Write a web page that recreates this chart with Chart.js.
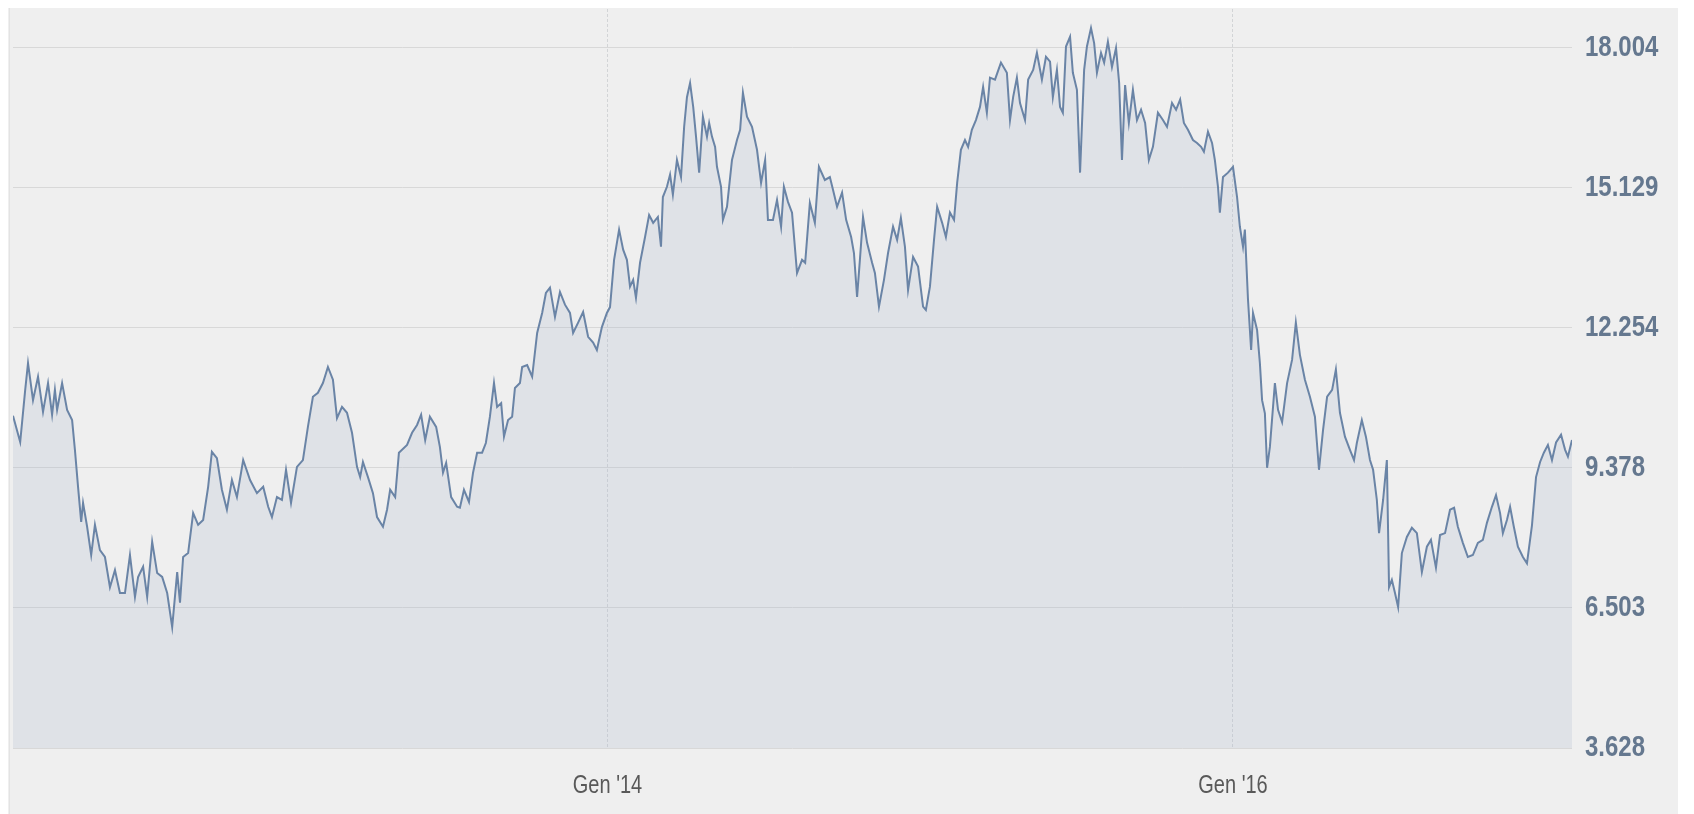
<!DOCTYPE html>
<html><head><meta charset="utf-8">
<script src="https://cdn.jsdelivr.net/npm/chart.js@4/dist/chart.umd.min.js"></script>
<style>
html,body{margin:0;padding:0;background:#fff;overflow:hidden;}
#wrap{position:absolute;left:0;top:0;width:1694px;height:814px;}
</style></head><body>
<div id="wrap"><canvas id="c" width="1694" height="814"></canvas></div>
<script>
// Time positions (decimal years)
const dates = [
2012.099,2012.122,2012.138,2012.147,2012.163,2012.179,2012.195,2012.211,2012.224,2012.233,2012.240,2012.256,2012.272,2012.288,2012.297,2012.307,2012.317,2012.323,2012.336,2012.349,
2012.361,2012.377,2012.393,2012.409,2012.425,2012.441,2012.457,2012.473,2012.489,2012.499,2012.515,2012.528,2012.544,2012.560,2012.576,2012.592,2012.608,2012.624,2012.633,2012.643,
2012.659,2012.675,2012.691,2012.707,2012.723,2012.735,2012.751,2012.767,2012.783,2012.799,2012.815,2012.835,2012.857,2012.879,2012.899,2012.915,2012.927,2012.943,2012.959,2012.972,
2012.988,2013.007,2013.026,2013.042,2013.058,2013.074,2013.090,2013.106,2013.122,2013.135,2013.151,2013.167,2013.183,2013.199,2013.209,2013.218,2013.234,2013.250,2013.263,2013.282,
2013.295,2013.305,2013.321,2013.333,2013.359,2013.375,2013.391,2013.404,2013.417,2013.432,2013.452,2013.464,2013.474,2013.484,2013.500,2013.519,2013.528,2013.541,2013.557,2013.570,
2013.583,2013.599,2013.611,2013.624,2013.637,2013.647,2013.660,2013.669,2013.682,2013.695,2013.704,2013.720,2013.727,2013.743,2013.759,2013.775,2013.791,2013.803,2013.816,2013.832,
2013.848,2013.864,2013.880,2013.890,2013.906,2013.922,2013.938,2013.954,2013.966,2013.982,2013.998,2014.008,2014.021,2014.037,2014.050,2014.062,2014.072,2014.082,2014.091,2014.104,
2014.120,2014.133,2014.146,2014.161,2014.171,2014.177,2014.190,2014.200,2014.209,2014.222,2014.235,2014.245,2014.254,2014.264,2014.274,2014.283,2014.293,2014.305,2014.318,2014.325,
2014.334,2014.344,2014.350,2014.363,2014.369,2014.382,2014.398,2014.414,2014.424,2014.433,2014.446,2014.462,2014.478,2014.491,2014.504,2014.513,2014.529,2014.542,2014.555,2014.564,
2014.577,2014.590,2014.606,2014.622,2014.632,2014.647,2014.663,2014.676,2014.695,2014.711,2014.721,2014.734,2014.750,2014.763,2014.779,2014.788,2014.798,2014.807,2014.817,2014.830,
2014.846,2014.855,2014.868,2014.884,2014.897,2014.913,2014.926,2014.938,2014.951,2014.961,2014.977,2014.993,2015.009,2015.018,2015.031,2015.044,2015.054,2015.070,2015.082,2015.095,
2015.108,2015.118,2015.130,2015.143,2015.153,2015.165,2015.178,2015.191,2015.201,2015.213,2015.223,2015.239,2015.258,2015.277,2015.287,2015.297,2015.309,2015.319,2015.335,2015.345,
2015.361,2015.373,2015.389,2015.402,2015.415,2015.424,2015.437,2015.447,2015.456,2015.466,2015.479,2015.488,2015.501,2015.511,2015.524,2015.533,2015.546,2015.556,2015.565,2015.578,
2015.588,2015.600,2015.613,2015.626,2015.636,2015.645,2015.655,2015.667,2015.680,2015.693,2015.706,2015.719,2015.731,2015.744,2015.760,2015.776,2015.789,2015.805,2015.818,2015.831,
2015.843,2015.856,2015.872,2015.885,2015.898,2015.907,2015.920,2015.933,2015.942,2015.952,2015.958,2015.968,2015.984,2016.000,2016.013,2016.022,2016.032,2016.038,2016.048,2016.058,
2016.064,2016.077,2016.086,2016.093,2016.102,2016.109,2016.118,2016.134,2016.144,2016.157,2016.173,2016.189,2016.201,2016.214,2016.230,2016.246,2016.262,2016.275,2016.288,2016.301,
2016.317,2016.329,2016.342,2016.358,2016.374,2016.387,2016.396,2016.412,2016.425,2016.438,2016.448,2016.460,2016.467,2016.480,2016.492,2016.499,2016.508,2016.518,2016.528,2016.540,
2016.556,2016.572,2016.588,2016.604,2016.620,2016.633,2016.649,2016.662,2016.678,2016.694,2016.707,2016.719,2016.735,2016.751,2016.767,2016.783,2016.799,2016.812,2016.828,2016.841,
2016.854,2016.863,2016.876,2016.886,2016.898,2016.911,2016.927,2016.940,2016.956,2016.969,2016.982,2016.994,2017.007,2017.020,2017.033,2017.049,2017.062,2017.071,2017.084
];
const values = [
10.45,9.91,10.98,11.53,10.77,11.25,10.53,11.12,10.47,10.98,10.57,11.12,10.57,10.36,9.75,8.99,8.27,8.66,8.17,7.59,
8.21,7.69,7.55,6.93,7.28,6.81,6.81,7.59,6.73,7.14,7.35,6.73,7.86,7.22,7.14,6.81,6.11,7.24,6.61,7.55,
7.63,8.45,8.21,8.31,8.99,9.71,9.58,8.93,8.52,9.13,8.78,9.54,9.13,8.86,8.99,8.58,8.37,8.78,8.72,9.34,
8.66,9.40,9.54,10.22,10.84,10.92,11.12,11.45,11.19,10.40,10.63,10.51,10.10,9.40,9.19,9.50,9.19,8.86,8.37,8.17,
8.52,8.93,8.78,9.69,9.85,10.10,10.26,10.47,9.95,10.43,10.22,9.81,9.28,9.48,8.78,8.58,8.56,8.93,8.68,9.28,
9.69,9.69,9.89,10.43,11.12,10.63,10.71,10.02,10.36,10.43,11.02,11.12,11.45,11.49,11.25,12.15,12.56,12.97,13.08,12.48,
12.99,12.73,12.56,12.15,12.36,12.58,12.07,11.95,11.80,12.27,12.56,12.68,13.65,14.27,13.86,13.65,13.10,13.24,12.87,13.59,
14.12,14.57,14.41,14.53,13.92,14.94,15.15,15.40,14.99,15.70,15.35,16.38,16.99,17.28,16.79,16.18,15.44,16.59,16.18,16.46,
16.18,15.97,15.56,15.15,14.47,14.74,15.70,16.11,16.32,17.08,16.59,16.38,15.91,15.23,15.70,14.47,14.47,14.88,14.33,15.15,
14.84,14.62,13.38,13.65,13.59,14.82,14.41,15.56,15.29,15.35,15.09,14.74,15.03,14.47,14.12,13.79,12.89,13.65,14.53,14.00,
13.59,13.38,12.69,13.24,13.79,14.33,14.06,14.51,13.92,13.03,13.71,13.51,12.69,12.62,13.10,14.06,14.74,14.41,14.12,14.62,
14.47,15.23,15.91,16.11,15.97,16.32,16.52,16.79,17.20,16.67,17.39,17.35,17.70,17.49,16.52,16.99,17.39,16.87,16.52,17.35,
17.55,17.90,17.35,17.82,17.72,16.99,17.55,16.79,16.67,18.03,18.23,17.49,17.14,15.44,17.55,18.03,18.41,18.10,17.49,17.90,
17.70,18.13,17.61,18.00,17.28,15.70,17.24,16.46,17.14,16.52,16.73,16.46,15.70,15.97,16.67,16.52,16.38,16.87,16.73,16.94,
16.46,16.32,16.11,16.05,15.97,15.87,16.28,16.05,15.70,15.15,14.62,15.35,15.44,15.56,14.94,14.33,13.92,14.27,12.83,11.80,
12.56,12.21,11.53,10.77,10.50,9.38,9.81,11.12,10.57,10.32,11.12,11.60,12.36,11.70,11.19,10.84,10.43,9.34,10.16,10.84,
10.98,11.40,10.51,10.02,9.75,9.54,9.89,10.36,10.02,9.54,9.34,8.72,8.04,8.72,9.54,6.93,7.08,6.81,6.52,7.63,
7.96,8.15,8.04,7.24,7.76,7.90,7.33,8.00,8.04,8.52,8.56,8.17,7.84,7.55,7.59,7.84,7.90,8.25,8.58,8.82,
8.45,8.04,8.31,8.58,8.17,7.76,7.55,7.42,8.20,9.19,9.50,9.69,9.85,9.54,9.90,10.06,9.75,9.61,9.95
];
const xTickValues = [2014, 2016];
const xTickLabels = ["Gen '14", "Gen '16"];
const yTickValues = [3.628, 6.503, 9.378, 12.254, 15.129, 18.004];
const yTickLabels = ["3.628", "6.503", "9.378", "12.254", "15.129", "18.004"];
const xMin = 2012.099, xMax = 2017.084;
const yMin = 3.628, yMax = 18.8;

const points = dates.map((d, i) => ({x: d, y: values[i]}));

const bgPlugin = {
  id: 'bg',
  beforeDraw(chart) {
    const ctx = chart.ctx;
    ctx.save();
    ctx.fillStyle = '#ffffff';
    ctx.fillRect(0, 0, chart.width, chart.height);
    ctx.fillStyle = '#efefef';
    ctx.fillRect(8, 8, 1670, chart.height - 8);
    ctx.fillStyle = '#e3e3e3';
    ctx.fillRect(9, 8, 1, chart.height - 8);
    ctx.restore();
  }
};

// narrow the tick label glyphs horizontally (the reference text is condensed)
const squeeze = 0.8;
const squeezePlugin = {
  id: 'squeeze',
  afterLayout(chart) {
    ['x', 'y'].forEach(id => {
      const s = chart.scales[id];
      if (!s || s._sqz) return;
      const orig = s.drawLabels;
      s._computeLabelArea = () => undefined;
      s.drawLabels = function (ca) {
        const items = this.getLabelItems(ca);
        if (items._sqzDone !== true) {
          items.forEach(it => {
            it.options.translation = [it.options.translation[0] / squeeze, it.options.translation[1]];
          });
          items._sqzDone = true;
        }
        this.ctx.save();
        this.ctx.scale(squeeze, 1);
        orig.call(this, ca);
        this.ctx.restore();
      };
      s._sqz = true;
    });
  }
};

const fam = "'Liberation Sans', Arial, Helvetica, sans-serif";

new Chart(document.getElementById('c'), {
  type: 'line',
  data: {
    datasets: [{
      data: points,
      borderColor: '#6a84a6',
      borderWidth: 2,
      backgroundColor: 'rgba(169,184,204,0.22)',
      fill: 'start',
      pointRadius: 0,
      tension: 0
    }]
  },
  plugins: [bgPlugin, squeezePlugin],
  options: {
    responsive: false,
    devicePixelRatio: 1,
    animation: false,
    layout: { padding: { left: 13, top: 9, right: 0, bottom: 0 } },
    plugins: { legend: { display: false }, tooltip: { enabled: false } },
    scales: {
      x: {
        type: 'linear',
        min: xMin, max: xMax,
        afterBuildTicks(scale) { scale.ticks = xTickValues.map(v => ({value: v})); },
        afterFit(scale) { scale.height = 66; scale.paddingLeft = 0; scale.paddingRight = 0; },
        grid: { color: '#d2d4d6', lineWidth: 1, drawTicks: false },
        border: { display: false, dash: [3, 2] },
        ticks: {
          autoSkip: false, maxRotation: 0, padding: 23,
          color: '#595959',
          font: { family: fam, size: 25 },
          callback(v) { const i = xTickValues.indexOf(v); return i >= 0 ? xTickLabels[i] : ''; }
        }
      },
      y: {
        position: 'right',
        min: yMin, max: yMax,
        afterBuildTicks(scale) { scale.ticks = yTickValues.map(v => ({value: v})); },
        afterFit(scale) { scale.width = 122; scale.paddingTop = 0; scale.paddingBottom = 0; },
        grid: { color: '#d8d8d8', lineWidth: 1, drawTicks: false },
        border: { display: false },
        ticks: {
          padding: 13,
          color: '#65788f',
          font: { family: fam, size: 30, weight: 'bold' },
          callback(v) { const i = yTickValues.indexOf(v); return i >= 0 ? yTickLabels[i] : ''; }
        }
      }
    }
  }
});
</script>
</body></html>
